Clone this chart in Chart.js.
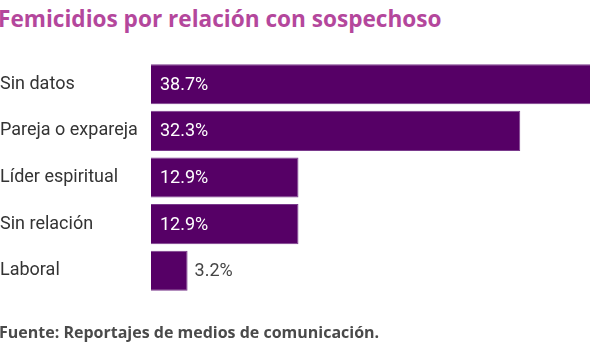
<!DOCTYPE html>
<html>
<head>
<meta charset="utf-8">
<script src="https://cdn.jsdelivr.net/npm/chart.js@4"></script>
<style>
  html, body { margin: 0; padding: 0; background: #ffffff; }
  #wrap { position: relative; width: 590px; height: 354px; overflow: hidden; }
  #title { position: absolute; left: -2px; top: 3px; font-family: "Open Sans", sans-serif; font-weight: 700; font-size: 22.6px; color: #b4479c; white-space: nowrap; letter-spacing: 0px; }
  #source { position: absolute; left: -1px; top: 321px; font-family: "Open Sans", sans-serif; font-weight: 700; font-size: 16px; color: #4a4a4a; white-space: nowrap; letter-spacing: 0px; }
  canvas { position: absolute; left: 0; top: 0; }
</style>
</head>
<body>
<div id="wrap">
  <div id="title">Femicidios por relación con sospechoso</div>
  <canvas id="c" width="590" height="354"></canvas>
  <div id="source">Fuente: Reportajes de medios de comunicación.</div>
</div>
<script>
const categories = ["Sin datos", "Pareja o expareja", "Líder espiritual", "Sin relación", "Laboral"];
const values = [38.7, 32.3, 12.9, 12.9, 3.2];
const valueLabels = ["38.7%", "32.3%", "12.9%", "12.9%", "3.2%"];

const valuePlugin = {
  id: 'valueLabels',
  afterDatasetsDraw(chart) {
    const ctx = chart.ctx;
    const meta = chart.getDatasetMeta(0);
    ctx.save();
    ctx.font = '18px Roboto';
    ctx.textBaseline = 'middle';
    ctx.textAlign = 'left';
    meta.data.forEach((bar, i) => {
      const w = bar.x - bar.base;
      if (w > 60) {
        ctx.fillStyle = '#ffffff';
        ctx.fillText(valueLabels[i], bar.base + 9, bar.y + 1);
      } else {
        ctx.fillStyle = '#444444';
        ctx.fillText(valueLabels[i], bar.x + 7, bar.y + 1);
      }
    });
    ctx.restore();
  }
};

new Chart(document.getElementById('c'), {
  type: 'bar',
  data: {
    labels: categories,
    datasets: [{
      data: values,
      backgroundColor: '#560066',
      borderColor: '#7a3a8c',
      borderWidth: 1,
      barPercentage: 0.86,
      categoryPercentage: 1.0
    }]
  },
  options: {
    indexAxis: 'y',
    responsive: false,
    animation: false,
    layout: { padding: { top: 61, bottom: 60, left: 0, right: 0 } },
    plugins: { legend: { display: false }, tooltip: { enabled: false }, title: { display: false } },
    scales: {
      x: { display: false, min: 0, max: 38.4 },
      y: {
        grid: { display: false },
        border: { display: false },
        afterFit(scale) { scale.width = 151; },
        ticks: {
          crossAlign: 'far',
          color: '#333333',
          font: { family: 'Roboto', size: 18 },
          padding: 0
        }
      }
    }
  },
  plugins: [valuePlugin]
});
</script>
</body>
</html>
